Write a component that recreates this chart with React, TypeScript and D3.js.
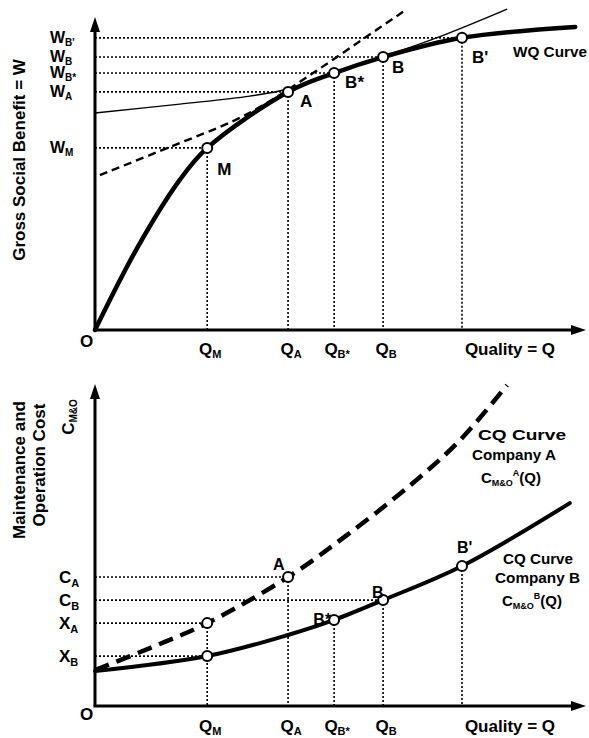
import * as d3 from 'd3';

// quality levels on the Q axis (same in both panels)
const qNames = ['M', 'A', 'B*', 'B', "B'"];
const qValues = [22.9, 39.4, 48.8, 58.8, 74.9];
const qLabelled = ['M', 'A', 'B*', 'B'];

// top panel: gross social benefit at each quality level
const wValues = [56.9, 74.4, 80.3, 85.3, 91.3];

// WQ curve (thick), tangent curves (thin solid, dashed)
const wqCurve = [[0, 0], [8.6, 25.6], [17.3, 46.9], [22.9, 56.9], [39.4, 74.4], [48.8, 80.3], [58.8, 85.3], [74.9, 91.3], [98, 94.7]];
const thinCurve = [[0, 67.8], [17.3, 70.6], [31.6, 73.1], [39.4, 75.3], [48.8, 80.3], [69.0, 90.9], [84.1, 100.3]];
const dashCurve = [[1.0, 48.4], [15.3, 57.2], [28.2, 65.3], [34.7, 70.6], [44.5, 80.3], [54.7, 90.9], [63.1, 99.7]];

// bottom panel: maintenance & operation cost curves
const costA = [[0, 11.25], [11.2, 18.1], [22.9, 25.9], [39.4, 40.3], [51.4, 53.4], [64.9, 69.7], [74.5, 83.1], [84.1, 100.3]];
const costB = [[0, 10.9], [22.9, 15.6], [39.4, 22.2], [48.8, 26.9], [58.8, 33.1], [74.9, 43.75], [96.9, 63.4]];

// marked points on the cost curves
const ptsANames = ['XA', 'A'];
const ptsAQ = [22.9, 39.4];
const ptsAC = [25.9, 40.3];
const ptsBNames = ['XB', 'B*', 'B', "B'"];
const ptsBQ = [22.9, 48.8, 58.8, 74.9];
const ptsBC = [15.6, 26.9, 33.1, 43.75];

// cost axis labels: [main, sub, level, q where the guide ends]
const cLabels: [string, string, number, number][] = [
  ['C', 'A', 40.3, 39.4],
  ['C', 'B', 33.1, 58.8],
  ['X', 'A', 25.9, 22.9],
  ['X', 'B', 15.6, 22.9],
];

const FONT = '"Liberation Sans", Arial, Helvetica, sans-serif';

// label offsets from their points
const topLabelOff: Record<string, [number, number]> = {
  M: [10, 27], A: [12, 15], 'B*': [11, 15], B: [9, 16], "B'": [10, 25],
};
const botLabelOff: Record<string, [number, number, string]> = {
  A: [-15, -7, 'start'], 'B*': [-3, 5, 'end'], B: [-11, -2, 'start'], "B'": [-5, -13, 'start'],
};

export default function App() {
  const W = 589, H = 738;
  const x = d3.scaleLinear().domain([0, 100]).range([95, 585]);
  const yTop = d3.scaleLinear().domain([0, 100]).range([330, 10]);
  const yBot = d3.scaleLinear().domain([0, 100]).range([706, 386]);

  const lineTop = d3.line<number[]>().x(d => x(d[0])).y(d => yTop(d[1])).curve(d3.curveCatmullRom.alpha(0.5));
  const lineBot = d3.line<number[]>().x(d => x(d[0])).y(d => yBot(d[1])).curve(d3.curveCatmullRom.alpha(0.5));

  const dot = { stroke: '#000', strokeWidth: 1.6, strokeDasharray: '2,2', fill: 'none' };
  const x0 = x(0);

  const axes = (yBase: number, yTopEnd: number) => (
    <g>
      <line x1={x0} y1={yBase} x2={x0} y2={yTopEnd + 12} stroke="#000" strokeWidth={3} />
      <polygon points={`${x0},${yTopEnd} ${x0 - 5},${yTopEnd + 15} ${x0 + 5},${yTopEnd + 15}`} fill="#000" />
      <line x1={x0 - 1.5} y1={yBase} x2={574} y2={yBase} stroke="#000" strokeWidth={3} />
      <polygon points={`586,${yBase} 571,${yBase - 5} 571,${yBase + 5}`} fill="#000" />
    </g>
  );

  const qAxisLabels = (baseline: number) => (
    <g>
      {qLabelled.map(n => {
        const i = qNames.indexOf(n);
        return (
          <text key={n} x={x(qValues[i]) + 3} y={baseline} textAnchor="middle" fontSize={17}>
            Q<tspan fontSize={11} dy={3}>{n}</tspan>
          </text>
        );
      })}
      <text x={510} y={baseline} textAnchor="middle" fontSize={17}>Quality = Q</text>
    </g>
  );

  return (
    <svg width={W} height={H} style={{ position: 'absolute', left: 0, top: 0, background: '#fff' }}
      fontFamily={FONT} fontWeight="bold">
      {/* ---------- top panel ---------- */}
      {qNames.map((n, i) => (
        <g key={'tg' + n}>
          <line x1={x0} y1={yTop(wValues[i])} x2={x(qValues[i])} y2={yTop(wValues[i])} {...dot} />
          <line x1={x(qValues[i])} y1={yTop(wValues[i])} x2={x(qValues[i])} y2={yTop(0)} {...dot} />
        </g>
      ))}
      <path d={lineTop(thinCurve) || ''} fill="none" stroke="#000" strokeWidth={1.4} />
      <path d={lineTop(dashCurve) || ''} fill="none" stroke="#000" strokeWidth={2.4} strokeDasharray="8,5" />
      <path d={lineTop(wqCurve) || ''} fill="none" stroke="#000" strokeWidth={4.5} strokeLinecap="round" />
      {axes(330, 17)}
      {qNames.map((n, i) => (
        <circle key={'tp' + n} cx={x(qValues[i])} cy={yTop(wValues[i])} r={5} fill="#fff" stroke="#000" strokeWidth={2} />
      ))}
      {qNames.map((n, i) => (
        <text key={'tl' + n} x={x(qValues[i]) + topLabelOff[n][0]} y={yTop(wValues[i]) + topLabelOff[n][1]} fontSize={17}>{n}</text>
      ))}
      {qNames.map((n, i) => (
        <text key={'wl' + n} x={50} y={yTop(wValues[i]) + 5} fontSize={16}>
          W<tspan fontSize={10} dy={3}>{n}</tspan>
        </text>
      ))}
      <text x={513} y={57} fontSize={14} textLength={74} lengthAdjust="spacingAndGlyphs">WQ Curve</text>
      <text x={80} y={347} fontSize={17}>O</text>
      {qAxisLabels(355)}
      <text transform="translate(25,160) rotate(-90)" textAnchor="middle" fontSize={17}>Gross Social Benefit = W</text>

      {/* ---------- bottom panel ---------- */}
      {cLabels.map(([m, s, c, q]) => (
        <g key={'cl' + m + s}>
          <line x1={x0} y1={yBot(c)} x2={x(q)} y2={yBot(c)} {...dot} />
          <text x={59} y={yBot(c) + 6} fontSize={17}>
            {m}<tspan fontSize={11} dy={4}>{s}</tspan>
          </text>
        </g>
      ))}
      <line x1={x(ptsAQ[0])} y1={yBot(ptsAC[0])} x2={x(ptsAQ[0])} y2={yBot(0)} {...dot} />
      <line x1={x(ptsAQ[1])} y1={yBot(ptsAC[1])} x2={x(ptsAQ[1])} y2={yBot(0)} {...dot} />
      {ptsBNames.slice(1).map((n, i) => (
        <line key={'bv' + n} x1={x(ptsBQ[i + 1])} y1={yBot(ptsBC[i + 1])} x2={x(ptsBQ[i + 1])} y2={yBot(0)} {...dot} />
      ))}
      <path d={lineBot(costA) || ''} fill="none" stroke="#000" strokeWidth={4.5} strokeDasharray="15,8" />
      <path d={lineBot(costB) || ''} fill="none" stroke="#000" strokeWidth={4} strokeLinecap="round" />
      {axes(706, 384)}
      {ptsANames.map((n, i) => (
        <circle key={'pa' + n} cx={x(ptsAQ[i])} cy={yBot(ptsAC[i])} r={5} fill="#fff" stroke="#000" strokeWidth={2} />
      ))}
      {ptsBNames.map((n, i) => (
        <circle key={'pb' + n} cx={x(ptsBQ[i])} cy={yBot(ptsBC[i])} r={5} fill="#fff" stroke="#000" strokeWidth={2} />
      ))}
      <text x={x(ptsAQ[1]) + botLabelOff.A[0]} y={yBot(ptsAC[1]) + botLabelOff.A[1]} fontSize={16}>A</text>
      {ptsBNames.slice(1).map((n, i) => (
        <text key={'bl' + n} x={x(ptsBQ[i + 1]) + botLabelOff[n][0]} y={yBot(ptsBC[i + 1]) + botLabelOff[n][1]}
          textAnchor={botLabelOff[n][2]} fontSize={16}>{n}</text>
      ))}
      <text x={80} y={720} fontSize={17}>O</text>
      {qAxisLabels(732)}

      <text x={478} y={440} fontSize={15} textLength={88} lengthAdjust="spacingAndGlyphs">CQ Curve</text>
      <text x={472} y={460} fontSize={15} textLength={84} lengthAdjust="spacingAndGlyphs">Company A</text>
      <text x={481} y={483} fontSize={15}>
        C<tspan fontSize={9} dy={3}>M&amp;O</tspan><tspan fontSize={9} dy={-10}>A</tspan><tspan dy={7}>(Q)</tspan>
      </text>
      <text x={503} y={564} fontSize={15} textLength={70} lengthAdjust="spacingAndGlyphs">CQ Curve</text>
      <text x={495} y={583} fontSize={15} textLength={85} lengthAdjust="spacingAndGlyphs">Company B</text>
      <text x={502} y={606} fontSize={15}>
        C<tspan fontSize={9} dy={3}>M&amp;O</tspan><tspan fontSize={9} dy={-10}>B</tspan><tspan dy={7}>(Q)</tspan>
      </text>

      <text transform="translate(25,470) rotate(-90)" textAnchor="middle" fontSize={17}>Maintenance and</text>
      <text transform="translate(45,465) rotate(-90)" textAnchor="middle" fontSize={17}>Operation Cost</text>
      <text transform="translate(74,417) rotate(-90)" textAnchor="middle" fontSize={17}>
        C<tspan fontSize={10} dy={3}>M&amp;O</tspan>
      </text>
    </svg>
  );
}
